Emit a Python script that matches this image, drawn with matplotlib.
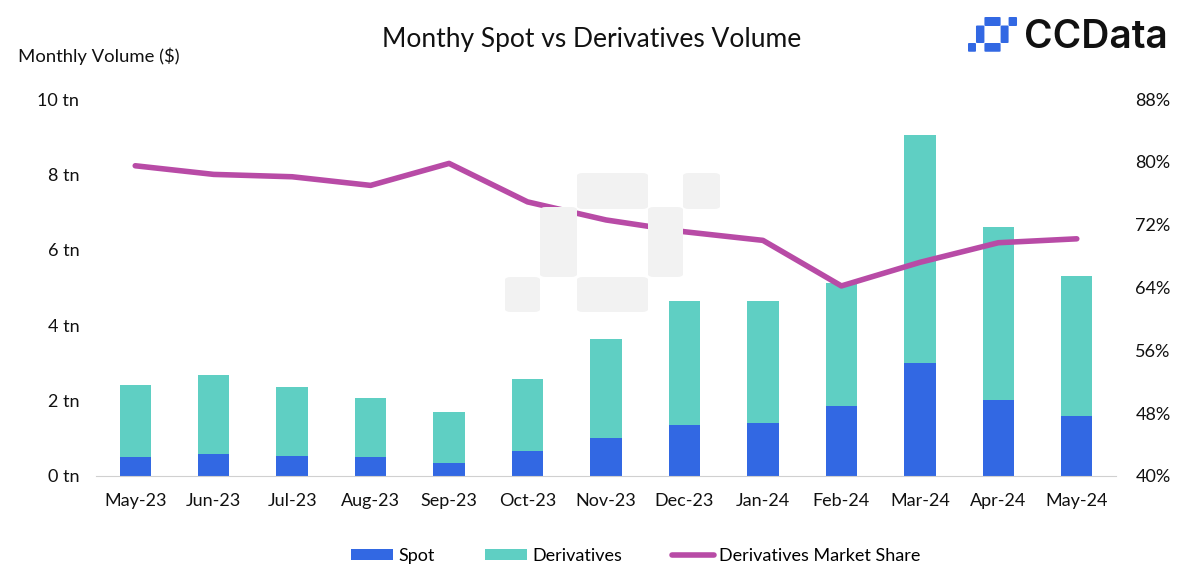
import matplotlib.pyplot as plt
from matplotlib.patches import FancyBboxPatch
import numpy as np

months = ['May-23', 'Jun-23', 'Jul-23', 'Aug-23', 'Sep-23', 'Oct-23', 'Nov-23',
          'Dec-23', 'Jan-24', 'Feb-24', 'Mar-24', 'Apr-24', 'May-24']
# trillions of $
spot = [0.50, 0.58, 0.53, 0.50, 0.34, 0.66, 1.01, 1.35, 1.41, 1.86, 3.00, 2.02, 1.59]
derivatives = [1.91, 2.10, 1.83, 1.57, 1.36, 1.91, 2.62, 3.29, 3.23, 3.26, 6.05, 4.58, 3.71]
# derivatives market share, %
share = [79.5, 78.4, 78.1, 77.0, 79.8, 74.9, 72.6, 71.1, 70.0, 64.2, 67.2, 69.7, 70.2]

left_ticks = [0, 2, 4, 6, 8, 10]
right_ticks = [40, 48, 56, 64, 72, 80, 88]

plt.rcParams['font.family'] = ['Lato', 'DejaVu Sans']

spot_col = '#3268E3'
der_col = '#5FCFC3'
line_col = '#B84BA6'

W, H = 1200, 580
fig = plt.figure(figsize=(12, 5.8), dpi=100)
ax = fig.add_axes([96 / W, 1 - 476 / H, 1020 / W, 377 / H])
ax.set_facecolor('none')


# rounded block in figure pixel coords (top-left origin)
def fig_box(x0, y0, x1, y1, col, rad):
    return FancyBboxPatch((x0 / W, 1 - y1 / H), (x1 - x0) / W, (y1 - y0) / H,
                          boxstyle=f'round,pad=0,rounding_size={rad}',
                          transform=fig.transFigure, facecolor=col,
                          edgecolor='none', zorder=0)


# watermark (pixel logo)
wm = [(577, 173, 648, 209), (683, 173, 720, 209), (540, 207, 577, 277),
      (648, 207, 683, 277), (577, 277, 648, 312), (505, 277, 540, 312)]
for b in wm:
    fig.patches.append(fig_box(b[0], b[1], b[2], b[3], '#F2F2F2', 0.005))

# CCData logo
ox, oy, sx, sy = 968, 17, 0.228, 0.25
for b in wm:
    x0 = ox + (b[0] - 505) * sx
    x1 = ox + (b[2] - 505) * sx
    y0 = oy + (b[1] - 173) * sy
    y1 = oy + (b[3] - 173) * sy
    fig.patches.append(fig_box(x0, y0, x1, y1, spot_col, 0.0012))
fig.text(1024 / W, 1 - 37 / H, 'CCData', fontsize=28, fontweight='semibold',
         family=['Inter', 'DejaVu Sans'], va='center', ha='left', color='#111111')

x = np.arange(len(months))
ax.bar(x, spot, width=0.4, color=spot_col, label='Spot', zorder=2)
ax.bar(x, derivatives, width=0.4, bottom=spot, color=der_col, label='Derivatives', zorder=2)
ax.set_xlim(-0.5, len(months) - 0.5)
ax.set_ylim(0, 10)
ax.set_yticks(left_ticks)
ax.set_yticklabels([f'{t} tn' for t in left_ticks])
ax.set_xticks(x)
ax.set_xticklabels(months)

ax2 = ax.twinx()
ax2.plot(x, share, color=line_col, lw=4, label='Derivatives Market Share', zorder=3,
         solid_capstyle='round')
ax2.set_ylim(40, 88)
ax2.set_yticks(right_ticks)
ax2.set_yticklabels([f'{t}%' for t in right_ticks])

for a in (ax, ax2):
    for sp in a.spines.values():
        sp.set_visible(False)
    a.tick_params(length=0, labelsize=13, colors='#111111')
ax.spines['bottom'].set_visible(True)
ax.spines['bottom'].set_color('#D0D0D0')
ax.tick_params(axis='x', pad=12)
ax.tick_params(axis='y', pad=12)
ax2.tick_params(axis='y', pad=14)

fig.text(592 / W, 1 - 40 / H, 'Monthy Spot vs Derivatives Volume', fontsize=19,
         ha='center', va='center', color='#111111')
fig.text(18 / W, 1 - 56 / H, 'Monthly Volume ($)', fontsize=13.3, ha='left',
         va='center', color='#111111')

h1, l1 = ax.get_legend_handles_labels()
h2, l2 = ax2.get_legend_handles_labels()
fig.legend(h1 + h2, l1 + l2, loc='center', bbox_to_anchor=(0.53, 1 - 556 / H),
           ncol=3, frameon=False, fontsize=13, handlelength=2.3, handleheight=0.6,
           columnspacing=2.8, handletextpad=0.3)

fig.savefig('out.png', dpi=100)
